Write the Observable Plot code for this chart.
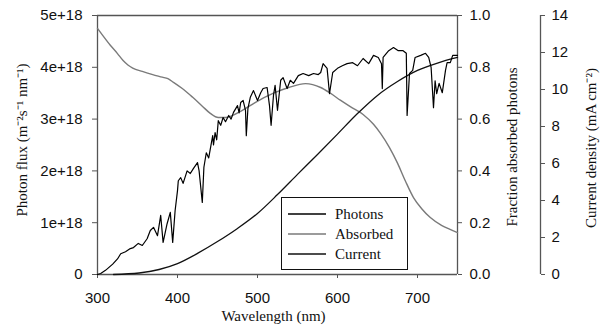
<!DOCTYPE html>
<html><head><meta charset="utf-8">
<script src="https://cdn.jsdelivr.net/npm/d3@7"></script>
<script src="https://cdn.jsdelivr.net/npm/@observablehq/plot@0.6"></script>
<style>
body{margin:0;background:#fff;}
#wrap{position:relative;width:604px;height:326px;background:#fff;}
#legend{position:absolute;left:281px;top:197px;width:127px;height:73px;border:1px solid #111;box-sizing:border-box;background:#fff;font-family:"Liberation Serif","Times New Roman",serif;font-size:15px;color:#111;}
#legend .row{position:absolute;left:6px;height:20px;display:flex;align-items:center;}
#legend .row span{margin-left:9px;}
</style></head><body><div id="wrap"></div>
<script>
// Photon flux spectrum (x1e18 m-2 s-1 nm-1)
const photonWl = [300,304,310,319,325,329,335,341,345,351,356,362,366,370,375,379,382,387,391,394,397,400,401,404,407,412,416,420,425,427,431,433,436,439,444,445,447,449,451,454,457,460,464,467,470,475,477,479,482,485,486,488,491,495,500,504,507,512,515,517,520,522,525,529,532,537,541,545,551,557,564,570,576,579,582,587,590,594,600,606,612,619,625,632,639,645,651,655,656,657,664,670,676,682,686,687,690,694,697,704,710,714,717,720,722,724,727,731,735,737,741,744,750];
const photonFlux = [0,0.02,0.08,0.2,0.3,0.4,0.44,0.5,0.52,0.6,0.56,0.69,0.85,0.91,0.75,1.14,0.62,0.98,1.2,0.62,1.23,1.62,1.81,1.87,1.76,2.0,1.95,2.05,2.16,2.0,1.39,2.07,2.35,2.25,2.68,2.5,2.74,2.6,2.97,2.88,3.03,2.95,3.07,3.0,3.13,3.26,3.12,3.32,3.36,3.17,2.68,3.2,3.42,3.55,3.36,3.51,3.59,3.61,3.26,2.88,3.46,3.65,3.17,3.75,3.8,3.59,3.75,3.69,3.84,3.88,3.84,3.88,3.86,3.9,4.07,3.98,3.49,3.9,3.98,4.03,4.07,4.09,4.03,4.17,4.07,4.23,4.19,4.07,3.59,4.19,4.32,4.38,4.32,4.32,4.27,3.07,3.88,3.94,4.19,4.23,4.27,4.19,4.0,3.22,3.74,3.49,3.69,3.51,3.94,4.09,4.09,4.23,4.23];
// Fraction of absorbed photons
const absorbedWl = [300,306,316,325,332,338,344,356,369,381,388,395,406,419,431,441,451,460,469,480,497,520,539,560,579,591,604,616,632,645,654,665,675,685,695,705,716,730,740,750];
const absorbedFrac = [0.95,0.925,0.885,0.853,0.826,0.809,0.797,0.784,0.772,0.762,0.756,0.742,0.718,0.684,0.65,0.622,0.606,0.606,0.614,0.632,0.664,0.70,0.722,0.737,0.722,0.70,0.672,0.648,0.618,0.58,0.544,0.49,0.43,0.36,0.297,0.255,0.22,0.19,0.175,0.162];
// Cumulative current density (mA cm-2)
const currentWl = [320,352,377,400,425,450,475,500,525,550,575,600,625,650,675,700,725,750];
const currentDensity = [0,0.08,0.27,0.59,1.14,1.78,2.49,3.3,4.32,5.41,6.49,7.59,8.70,9.68,10.43,11.03,11.43,11.73];
const xTicks = [300,400,500,600,700];
const fluxTicks = [0,1,2,3,4,5];
const fracTicks = [0,0.2,0.4,0.6,0.8,1.0];
const currentTicks = [0,2,4,6,8,10,12,14];
const seriesNames = ["Photons","Absorbed","Current"];

const FMAX = 5, CMAX = 14;
const photons = photonWl.map((w,i)=>({w, v: photonFlux[i]}));
const absorbed = absorbedWl.map((w,i)=>({w, v: absorbedFrac[i]*FMAX}));
const current = currentWl.map((w,i)=>({w, v: currentDensity[i]*FMAX/CMAX}));
const axisCol = "#555";
const serif = "Liberation Serif, Times New Roman, serif";

const chart = Plot.plot({
  width: 604, height: 326,
  marginLeft: 97, marginRight: 147, marginTop: 15, marginBottom: 52,
  style: {fontFamily: "Liberation Sans, Arial, sans-serif", fontSize: "15px", color: "#111", background: "#fff"},
  x: {domain: [300, 750]},
  y: {domain: [0, FMAX]},
  marks: [
    Plot.axisX(xTicks, {tickSize: 4, tickPadding: 14, stroke: axisCol, label: null}),
    Plot.axisY(fluxTicks, {anchor: "left", tickSize: 5, tickPadding: 10, stroke: axisCol, label: null,
      tickFormat: d => d === 0 ? "0" : d + "e+18"}),
    Plot.axisY(fracTicks.map(f => f*FMAX), {anchor: "right", tickSize: 4, tickPadding: 8, stroke: axisCol, label: null,
      tickFormat: d => (d/FMAX).toFixed(1)}),
    Plot.axisY(currentTicks.map(c => c*FMAX/CMAX), {anchor: "right", dx: 83, tickSize: 4, tickPadding: 7, stroke: axisCol, label: null,
      tickFormat: d => String(Math.round(d*CMAX/FMAX))}),
    Plot.ruleX([300], {stroke: axisCol, strokeWidth: 1.3}),
    Plot.ruleX([750], {stroke: axisCol, strokeWidth: 1.3}),
    Plot.ruleX([750], {stroke: axisCol, strokeWidth: 1.3, dx: 83}),
    Plot.ruleY([0], {stroke: axisCol, strokeWidth: 1.3}),
    Plot.ruleY([FMAX], {stroke: axisCol, strokeWidth: 1.3}),
    Plot.line(absorbed, {x: "w", y: "v", stroke: "#7a7a7a", strokeWidth: 1.4, curve: "monotone-x"}),
    Plot.line(current, {x: "w", y: "v", stroke: "#111", strokeWidth: 1.3, curve: "monotone-x"}),
    Plot.line(photons, {x: "w", y: "v", stroke: "#000", strokeWidth: 1.2}),
    Plot.text(["Photon flux (m\u207B\u00B2s\u207B\u00B9 nm\u207B\u00B9)"], {frameAnchor: "left", textAnchor: "middle", dx: -75, dy: -5, rotate: -90, fontFamily: serif, fontSize: 15, fill: "#111"}),
    Plot.text(["Fraction absorbed photons"], {frameAnchor: "right", textAnchor: "middle", dx: 55, dy: 2, rotate: -90, fontFamily: serif, fontSize: 15, fill: "#111"}),
    Plot.text(["Current density (mA cm\u207B\u00B2)"], {frameAnchor: "right", textAnchor: "middle", dx: 134, dy: 3, rotate: -90, fontFamily: serif, fontSize: 15, fill: "#111"}),
    Plot.text(["Wavelength (nm)"], {frameAnchor: "bottom", textAnchor: "middle", dx: -4, dy: 46, fontFamily: serif, fontSize: 15, fill: "#111"})
  ]
});
const wrap = document.getElementById("wrap");
wrap.appendChild(chart);
const legend = document.createElement("div");
legend.id = "legend";
const legendColors = ["#000", "#7a7a7a", "#111"];
seriesNames.forEach((name, i) => {
  const row = document.createElement("div");
  row.className = "row";
  row.style.top = (6 + i*20) + "px";
  row.innerHTML = `<svg width="38" height="4"><line x1="0" x2="38" y1="2" y2="2" stroke="${legendColors[i]}" stroke-width="1.3"/></svg><span>${name}</span>`;
  legend.appendChild(row);
});
wrap.appendChild(legend);
</script>
</body></html>
